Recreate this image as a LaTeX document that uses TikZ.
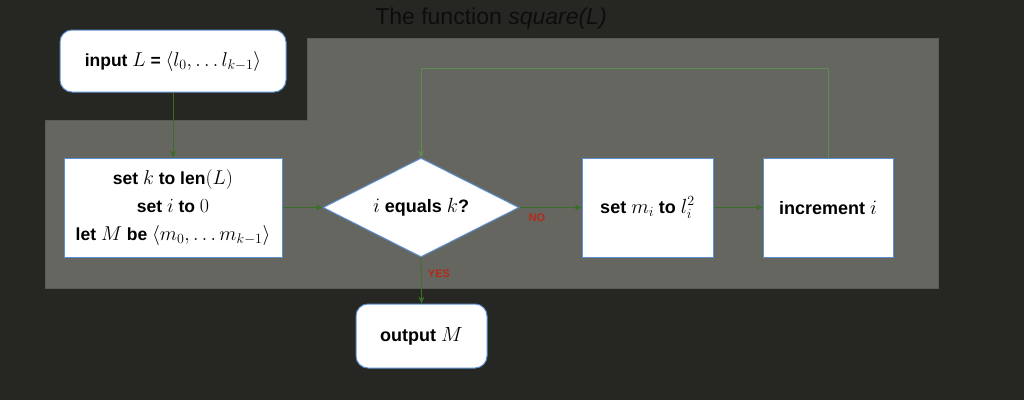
\RequirePackage{fix-cm}
\documentclass[tikz,border=0pt]{standalone}
\usepackage{fontspec}
\setmainfont{Liberation Sans}
\usetikzlibrary{shapes.geometric,arrows.meta}
% formulas set a little larger than the surrounding text
\DeclareMathSizes{17.5}{20}{14}{11}
\DeclareMathSizes{18}{20.5}{14}{11}
\definecolor{bgdark}{HTML}{262622}
\definecolor{panel}{HTML}{666661}
\definecolor{paneledge}{HTML}{5A5A55}
\definecolor{boxedge}{HTML}{5B8FD0}
\definecolor{flow}{HTML}{3A6E26}
\definecolor{flowlight}{HTML}{5E8B50}
\definecolor{tagred}{HTML}{B42A18}
\begin{document}
\begin{tikzpicture}[x=1pt,y=-1pt,
  every node/.style={font=\fontsize{17.5}{28}\selectfont\bfseries, text=black},
  bigtext/.style={font=\fontsize{18}{28}\selectfont\bfseries},
  procbox/.style={draw=boxedge, line width=1pt, fill=white, rectangle, inner sep=0pt, align=center},
  termbox/.style={procbox, rounded corners=12pt},
  decbox/.style={draw=boxedge, line width=1pt, fill=white, diamond, inner sep=0pt, aspect=2},
  flowline/.style={draw=flow, line width=0.8pt, -{Stealth[length=7pt,width=6pt]}},
  tag/.style={font=\fontsize{11}{13}\selectfont\bfseries, text=tagred}]
  % page background
  \fill[bgdark] (0,0) rectangle (1024,400);
  \useasboundingbox (0,0) rectangle (1024,400);
  % body of the function
  \filldraw[fill=panel, draw=paneledge, line width=0.8pt]
    (307,38) -- (938,38) -- (938,288) -- (45,288) -- (45,120) -- (307,120) -- cycle;
  \node[font=\fontsize{23}{27}\selectfont, text=black!95] (title) at (491,19) {The function \textit{square(L)}};
  % nodes
  \node[termbox, minimum width=226pt, minimum height=62pt] (input) at (173,61)
    {input $L$ = $\langle l_0, \ldots l_{k-1}\rangle$};
  \node[procbox, minimum width=218pt, minimum height=99pt] (init) at (173,207.5)
    {set $k$ to len$(L)$\\ set $i$ to $0$\\ let $M$ be $\langle m_0, \ldots m_{k-1}\rangle$};
  \node[decbox, bigtext, minimum width=196pt, minimum height=99pt] (test) at (421,207.5)
    {$i$ equals $k$?};
  \node[procbox, bigtext, minimum width=131pt, minimum height=99pt] (square) at (647.5,207.5)
    {set $m_i$ to $l_i^2$};
  \node[procbox, bigtext, minimum width=130pt, minimum height=99pt] (incr) at (828,207.5)
    {increment $i$};
  \node[termbox, bigtext, minimum width=131pt, minimum height=64pt] (output) at (421.5,336)
    {output $M$};
  \coordinate (loopR) at (828,68);
  \coordinate (loopL) at (421,68);
  % connectors
  \draw[flowline] (input.south) -- (init.north);
  \draw[flowline] (init.east) -- (test.west);
  \draw[flowline] (test.east) -- (square.west)
    node[tag, pos=0.28, below=3pt] (no) {NO};
  \draw[flowline] (square.east) -- (incr.west);
  \draw[flowline, draw=flowlight] (incr.north) -- (loopR) -- (loopL) -- (test.north);
  \draw[flowline] (test.south) -- (output.north)
    node[tag, pos=0.35, right=3pt] (yes) {YES};
\end{tikzpicture}
\end{document}
